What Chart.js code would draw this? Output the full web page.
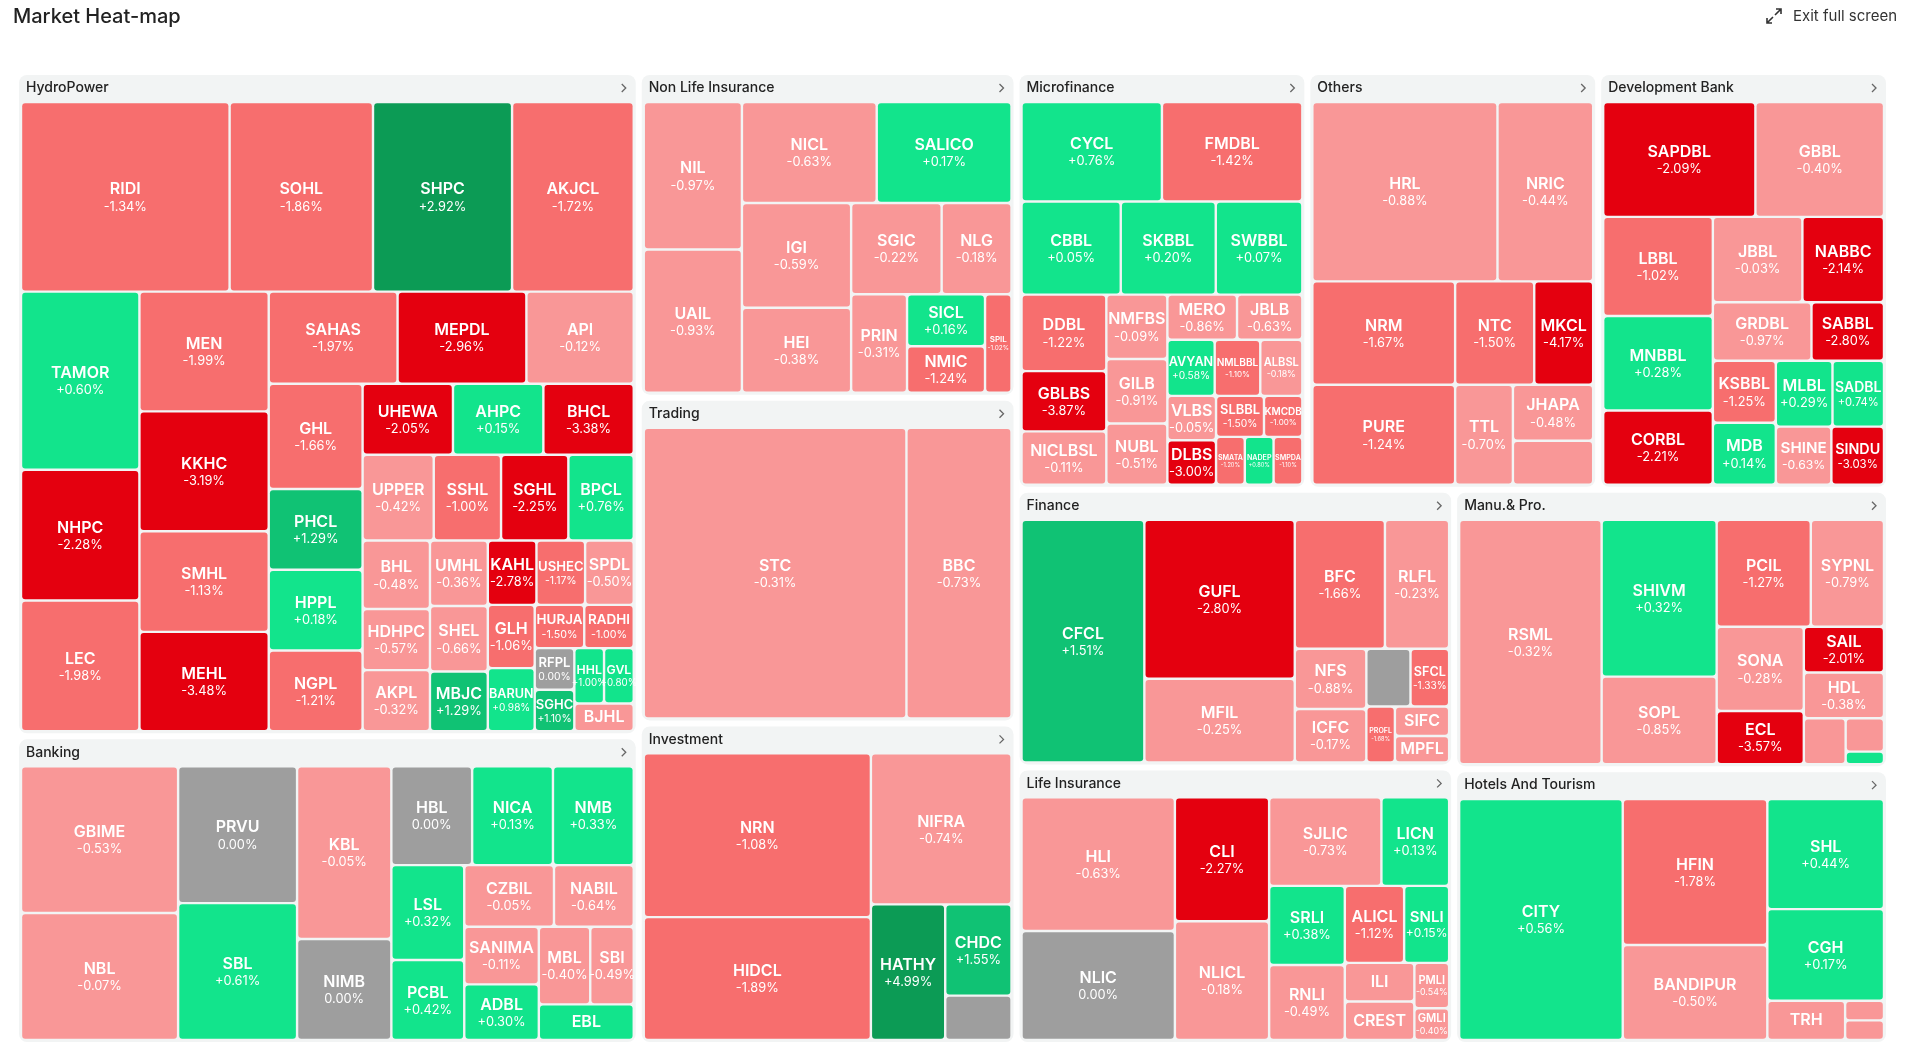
<!DOCTYPE html>
<html><head><meta charset="utf-8">
<script src="https://cdn.jsdelivr.net/npm/chart.js@4.4.1/dist/chart.umd.min.js"></script>
<style>
html,body{margin:0;padding:0;background:#fff;width:1911px;height:1061px;overflow:hidden;font-family:Inter,"Noto Sans",sans-serif}
#title{position:absolute;left:13px;top:4px;font-size:20px;color:#222;font-weight:500}
#exit{position:absolute;left:1765px;top:6px;font-size:15px;color:#333;display:flex;align-items:center;gap:10px}
#wrap{position:absolute;left:0;top:0;width:1911px;height:1061px}
</style></head><body>
<div id="wrap"><canvas id="c" width="1911" height="1061"></canvas></div>
<div id="title">Market Heat-map</div>
<div id="exit"><svg width="18" height="18" viewBox="0 0 18 18" fill="none" stroke="#333" stroke-width="1.6"><path d="M11 2h5v5M16 2l-6 6M7 16H2v-5M2 16l6-6"/></svg>Exit full screen</div>
<script>
// ---- data ----
const sectorNames = ["HydroPower","Banking","Investment","Microfinance","Others","Development Bank","Finance","Life Insurance","Non Life Insurance","Hotels And Tourism","Manu.& Pro.","Trading"];
const sectorCaps  = [269,125,79,79,79,79,79,79,80,78,79,80];

const hydroNames=["RIDI","SOHL","SHPC","AKJCL","TAMOR","NHPC","LEC","MEN","KKHC","SMHL","MEHL","SAHAS","MEPDL","API","GHL","PHCL","HPPL","NGPL","UPPER","BPCL","UHEWA","AHPC","BHCL","SSHL","SGHL","HDHPC","UMHL","SHEL","MBJC","BHL","AKPL","KAHL","USHEC","SPDL","GLH","BARUN","RFPL","HURJA","SGHC","RADHI","HHL","GVL","BJHL"];
const hydroCaps=[24,16.5,16,14,12.8,9.4,9.4,9.4,9.4,7.9,7.8,7.2,7.2,6,6,4.6,4.6,4.6,3.7,3.4,3.9,3.9,3.9,3.5,3.5,2.5,2.3,2.3,2.1,2.8,2.5,1.9,1.9,1.9,1.8,1.8,1,1.3,1,1.3,1,1,1];
const hydroChg=[-1.34,-1.86,2.92,-1.72,0.60,-2.28,-1.98,-1.99,-3.19,-1.13,-3.48,-1.97,-2.96,-0.12,-1.66,1.29,0.18,-1.21,-0.42,0.76,-2.05,0.15,-3.38,-1.00,-2.25,-0.57,-0.36,-0.66,1.29,-0.48,-0.32,-2.78,-1.17,-0.50,-1.06,0.98,0.00,-1.50,1.10,-1.00,1.00,0.80,-0.70];

const bankNames=["GBIME","NBL","PRVU","SBL","KBL","NIMB","HBL","NICA","NMB","LSL","PCBL","CZBIL","NABIL","SANIMA","ADBL","MBL","SBI","EBL"];
const bankCaps=[15,13,10.6,10.6,10.6,6.2,5.2,5.2,5.2,4.5,3.8,3.6,3.2,2.8,2.7,2.6,2.2,2.2];
const bankChg=[-0.53,-0.07,0.00,0.61,-0.05,0.00,0.00,0.13,0.33,0.32,0.42,-0.05,-0.64,-0.11,0.30,-0.40,-0.49,0.30];

const invNames=["NRN","HIDCL","NIFRA","HATHY","CHDC",""];
const invCaps=[24,18,13.7,6.5,3.9,1.9];
const invChg=[-1.08,-1.89,-0.74,4.99,1.55,0.00];

const microNames=["CYCL","FMDBL","CBBL","SKBBL","SWBBL","DDBL","GBLBS","NICLBSL","MERO","JBLB","NMLBBL","ALBSL","NMFBS","GILB","NUBL","AVYAN","VLBS","SLBBL","DLBS","KMCDB","SMATA","NADEP","SMPDA"];
const microCaps=[7.1,7.1,4.7,4.5,4.1,3.3,2.6,2.3,1.6,1.5,1.3,1.2,2,2,1.9,1.35,1.1,1,1.1,0.8,0.7,0.7,0.7];
const microChg=[0.76,-1.42,0.05,0.20,0.07,-1.22,-3.87,-0.11,-0.86,-0.63,-1.10,-0.18,-0.09,-0.91,-0.51,0.58,-0.05,-1.50,-3.00,-1.00,-1.20,0.80,-1.10];

const othNames=["HRL","NRIC","NRM","PURE","NTC","MKCL","TTL","JHAPA",""];
const othCaps=[20.7,10.7,9.2,8.9,5.1,3.8,3.6,2.8,2.2];
const othChg=[-0.88,-0.44,-1.67,-1.24,-1.50,-4.17,-0.70,-0.48,-0.50];

const devNames=["SAPDBL","GBBL","LBBL","MNBBL","CORBL","JBBL","NABBC","GRDBL","SABBL","SADBL","SINDU","KSBBL","MLBL","MDB","SHINE"];
const devCaps=[10.3,8.7,6.4,6.1,4.8,4.5,4.1,3.4,2.5,2,1.8,2.3,2.2,2.3,1.9];
const devChg=[-2.09,-0.40,-1.02,0.28,-2.21,-0.03,-2.14,-0.97,-2.80,0.74,-3.03,-1.25,0.29,0.14,-0.63];

const finNames=["CFCL","GUFL","MFIL","BFC","RLFL","NFS","ICFC","SFCL","PROFL","SIFC","MPFL",""];
const finCaps=[18.7,15,7.9,7.3,5.2,2.7,2.4,1.4,1,1,0.9,1.6];
const finChg=[1.51,-2.80,-0.25,-1.66,-0.23,-0.88,-0.17,-1.33,-1.68,-0.18,-0.30,0.00];

const lifeNames=["HLI","NLIC","CLI","NLICL","SJLIC","LICN","SRLI","RNLI","ALICL","SNLI","ILI","CREST","PMLI","GMLI"];
const lifeCaps=[13,10.6,7.4,7.1,6.3,3.8,3.8,3.6,2.9,2.2,1.7,1.7,1,0.7];
const lifeChg=[-0.63,0.00,-2.27,-0.18,-0.73,0.13,0.38,-0.49,-1.12,0.15,-0.41,-0.35,-0.54,-0.40];

const nonlifeNames=["NIL","UAIL","NICL","SALICO","IGI","HEI","SGIC","NLG","PRIN","SICL","NMIC","SPIL"];
const nonlifeCaps=[10,9.7,9.4,9.4,7.9,6.4,5.7,4.4,3.8,2.8,2.5,1.8];
const nonlifeChg=[-0.97,-0.93,-0.63,0.17,-0.59,-0.38,-0.22,-0.18,-0.31,0.16,-1.24,-1.02];

const hotelNames=["CITY","HFIN","BANDIPUR","SHL","CGH","TRH","",""];
const hotelCaps=[25.8,13.8,9,8.4,7,2,0.5,0.5];
const hotelChg=[0.56,-1.78,-0.50,0.44,0.17,-0.36,-0.30,-0.40];

const manuNames=["RSML","SHIVM","SOPL","PCIL","SYPNL","SONA","ECL","SAIL","HDL","","",""];
const manuCaps=[21.8,11.3,6.3,6.3,4.9,4.6,2.9,2.3,2.3,1.2,0.8,0.3];
const manuChg=[-0.32,0.32,-0.85,-1.27,-0.79,-0.28,-3.57,-2.01,-0.38,-0.50,-0.60,0.40];

const tradeNames=["STC","BBC"];
const tradeCaps=[52,20.8];
const tradeChg=[-0.31,-0.73];

const sectorStocks=[[hydroNames,hydroCaps,hydroChg],[bankNames,bankCaps,bankChg],[invNames,invCaps,invChg],[microNames,microCaps,microChg],[othNames,othCaps,othChg],[devNames,devCaps,devChg],[finNames,finCaps,finChg],[lifeNames,lifeCaps,lifeChg],[nonlifeNames,nonlifeCaps,nonlifeChg],[hotelNames,hotelCaps,hotelChg],[manuNames,manuCaps,manuChg],[tradeNames,tradeCaps,tradeChg]];

// ---- layout ----
function worst(row,side){const s=row.reduce((a,b)=>a+b,0);const mx=Math.max(...row),mn=Math.min(...row);return Math.max(side*side*mx/(s*s),s*s/(side*side*mn));}
function squarify(vals,x,y,w,h){
  const idx=vals.map((v,i)=>i).sort((a,b)=>vals[b]-vals[a]);
  const total=vals.reduce((a,b)=>a+b,0);
  const sc=idx.map(i=>vals[i]*w*h/total);
  const out=new Array(vals.length);let i=0;
  while(i<sc.length){
    const side=Math.min(w,h);let row=[sc[i]];let j=i+1;
    while(j<sc.length){const nr=row.concat(sc[j]);if(worst(nr,side)<=worst(row,side)){row=nr;j++;}else break;}
    const s=row.reduce((a,b)=>a+b,0);
    if(w>=h){const cw=s/h;let yy=y;row.forEach((a,k)=>{const rh=a/cw;out[idx[i+k]]={x,y:yy,w:cw,h:rh};yy+=rh;});x+=cw;w-=cw;}
    else{const rh=s/w;let xx=x;row.forEach((a,k)=>{const cw=a/rh;out[idx[i+k]]={x:xx,y,w:cw,h:rh};xx+=cw;});y+=rh;h-=rh;}
    i=j;
  }
  return out;
}
function colorFor(c){
  if(c===0)return "#9e9e9e";
  if(c>2)return "#0c9b55";
  if(c>1)return "#10c274";
  if(c>0)return "#12e48c";
  if(c<=-2)return "#e4000f";
  if(c<=-1)return "#f76e6e";
  return "#f99797";
}
function rr(ctx,x,y,w,h,r){r=Math.max(0,Math.min(r,w/2,h/2));ctx.beginPath();ctx.moveTo(x+r,y);ctx.arcTo(x+w,y,x+w,y+h,r);ctx.arcTo(x+w,y+h,x,y+h,r);ctx.arcTo(x,y+h,x,y,r);ctx.arcTo(x,y,x+w,y,r);ctx.closePath();}

const treemapPlugin={id:'treemap',afterDatasetsDraw(chart){
  const ctx=chart.ctx,xs=chart.scales.x,ys=chart.scales.y;
  const P=(x,y)=>[xs.getPixelForValue(x),ys.getPixelForValue(y)];
  const secs=squarify(sectorCaps,16,72,1873,973);
  secs.forEach((s,si)=>{
    const g=3;const sx=s.x+g,sy=s.y+g,sw=s.w-2*g,sh=s.h-2*g;
    const [px,py]=P(sx,sy);const [px2,py2]=P(sx+sw,sy+sh);
    ctx.fillStyle="#f2f4f4";rr(ctx,px,py,px2-px,py2-py,8);ctx.fill();
    ctx.fillStyle="#222";ctx.font="500 14px Inter";ctx.textBaseline="middle";ctx.textAlign="left";
    ctx.fillText(sectorNames[si],px+7,py+13);
    ctx.strokeStyle="#666";ctx.lineWidth=1.3;ctx.beginPath();ctx.moveTo(px2-14,py+9);ctx.lineTo(px2-10,py+13);ctx.lineTo(px2-14,py+17);ctx.stroke();
    const [names,caps,chg]=sectorStocks[si];
    const cells=squarify(caps,sx+2,sy+27,sw-4,sh-29);
    cells.forEach((c,k)=>{
      const [cx,cy]=P(c.x+1.2,c.y+1.2);const [cx2,cy2]=P(c.x+c.w-1.2,c.y+c.h-1.2);
      const w=cx2-cx,h=cy2-cy;if(w<=0||h<=0)return;
      ctx.fillStyle=colorFor(chg[k]);rr(ctx,cx,cy,w,h,3);ctx.fill();
      const nm=names[k];if(!nm)return;
      let fs=Math.min(16,(w-3)/(nm.length*0.66),h/1.3);
      if(fs<6)return;
      const ps=(chg[k]>0?"+":"")+chg[k].toFixed(2)+"%";
      ctx.fillStyle="#fff";ctx.textAlign="center";
      const mx=cx+w/2,my=cy+h/2;
      if(h>fs*2.4){
        ctx.font="600 "+fs.toFixed(1)+"px Inter";ctx.fillText(nm,mx,my-fs*0.45);
        ctx.font="400 "+(fs*0.8).toFixed(1)+"px Inter";ctx.fillText(ps,mx,my+fs*0.62);
      }else{ctx.font="600 "+fs.toFixed(1)+"px Inter";ctx.fillText(nm,mx,my);}
    });
  });
}};

Chart.defaults.font.family="Inter";
new Chart(document.getElementById('c'),{
  type:'scatter',
  data:{datasets:[{data:[],pointRadius:0}]},
  options:{responsive:false,animation:false,devicePixelRatio:1,
    layout:{padding:0},
    plugins:{legend:{display:false},tooltip:{enabled:false}},
    scales:{x:{type:'linear',min:0,max:1911,display:false},y:{type:'linear',min:0,max:1061,reverse:true,display:false}}},
  plugins:[treemapPlugin]
});
</script></body></html>
